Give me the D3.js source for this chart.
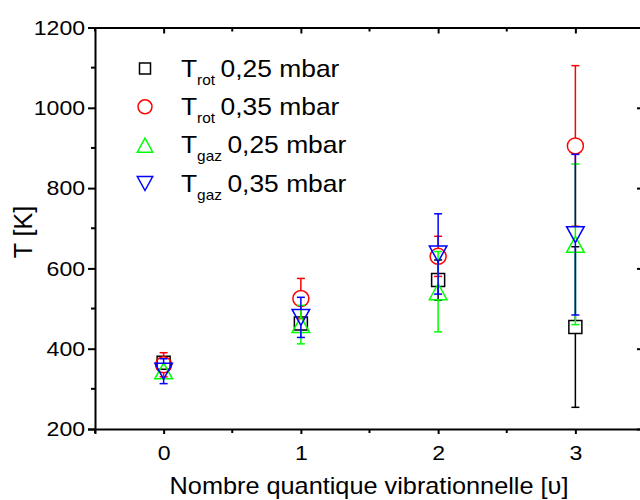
<!DOCTYPE html>
<html lang="fr"><head><meta charset="UTF-8">
<title>T vs nombre quantique vibrationnel</title>
<script src="https://d3js.org/d3.v7.min.js"></script>
<style>
  body { margin: 0; background: #fff; }
  text { font-family: "Liberation Sans", Arial, sans-serif; fill: #000; }
</style>
</head>
<body>
<script>
// data
var levels = [0, 1, 2, 3];
var trot025 = [365, 463, 571, 454];
var trot025Err = [10, 15, 50, 200];
var trot035 = [360, 525, 630, 905];
var trot035Err = [30, 50, 50, 200];
var tgaz025 = [345, 460, 542, 660];
var tgaz025Err = [10, 48, 100, 200];
var tgaz035 = [344, 478, 636, 684];
var tgaz035Err = [31, 50, 100, 200];
var seriesNames = ["rot", "rot", "gaz", "gaz"];
var seriesLabels = ["0,25 mbar", "0,35 mbar", "0,25 mbar", "0,35 mbar"];
var yTicks = [200, 400, 600, 800, 1000, 1200];
var xTicks = [0, 1, 2, 3];

var w = 640, h = 500;
var svg = d3.select("body").append("svg").attr("width", w).attr("height", h);

var x = d3.scaleLinear().domain([-0.5, 3.5]).range([95, 644]);
var y = d3.scaleLinear().domain([200, 1200]).range([429, 27.5]);

var series = [
  { vals: trot025, err: trot025Err, color: "#000000", shape: "square" },
  { vals: trot035, err: trot035Err, color: "#ff0000", shape: "circle" },
  { vals: tgaz025, err: tgaz025Err, color: "#00ff00", shape: "up" },
  { vals: tgaz035, err: tgaz035Err, color: "#0000ff", shape: "down" }
];

function markerPath(shape, s) {
  var r = s / 2;
  if (shape == "square") return "M" + (-r) + "," + (-r) + "h" + s + "v" + s + "h" + (-s) + "Z";
  if (shape == "circle") return "M" + r + ",0A" + r + "," + r + " 0 1,1 " + (-r) + ",0A" + r + "," + r + " 0 1,1 " + r + ",0Z";
  if (shape == "up") return "M0," + (-r) + "L" + (r * 1.1) + "," + r + "L" + (-r * 1.1) + "," + r + "Z";
  return "M0," + r + "L" + (r * 1.1) + "," + (-r) + "L" + (-r * 1.1) + "," + (-r) + "Z";
}
var markerSize = { square: 13, circle: 16, up: 16, down: 16 };

// data
series.forEach(function(s) {
  var g = svg.append("g");
  var half = markerSize[s.shape] / 2;
  levels.forEach(function(lv, i) {
    var cx = x(lv), cy = y(s.vals[i]);
    var top = y(s.vals[i] + s.err[i]), bot = y(s.vals[i] - s.err[i]);
    if (cy - half > top) {
      g.append("line").attr("x1", cx).attr("x2", cx).attr("y1", top).attr("y2", cy - half)
        .attr("stroke", s.color).attr("stroke-width", 1.5);
      g.append("line").attr("x1", cx - 4).attr("x2", cx + 4).attr("y1", top).attr("y2", top)
        .attr("stroke", s.color).attr("stroke-width", 1.5);
    }
    if (cy + half < bot) {
      g.append("line").attr("x1", cx).attr("x2", cx).attr("y1", cy + half).attr("y2", bot)
        .attr("stroke", s.color).attr("stroke-width", 1.5);
      g.append("line").attr("x1", cx - 4).attr("x2", cx + 4).attr("y1", bot).attr("y2", bot)
        .attr("stroke", s.color).attr("stroke-width", 1.5);
    }
    g.append("path").attr("d", markerPath(s.shape, markerSize[s.shape]))
      .attr("transform", "translate(" + cx + "," + cy + ")")
      .attr("fill", "none").attr("stroke", s.color).attr("stroke-width", 1.5);
  });
});

// axes
var minorX = [-0.5, 0, 0.5, 1, 1.5, 2, 2.5, 3, 3.5];
var minorY = d3.range(200, 1201, 100);

var bottom = svg.append("g").attr("transform", "translate(0,429)")
  .call(d3.axisBottom(x).tickValues(xTicks).tickSize(5).tickPadding(11).tickFormat(d3.format("d")));
bottom.append("g").selectAll("line").data(minorX.filter(function(d) { return xTicks.indexOf(d) < 0; }))
  .enter().append("line").attr("x1", x).attr("x2", x).attr("y1", 0).attr("y2", 4).attr("stroke", "#000").attr("stroke-width", 2);

var left = svg.append("g").attr("transform", "translate(95,0)")
  .call(d3.axisLeft(y).tickValues(yTicks).tickSize(7).tickPadding(2).tickFormat(d3.format("d")));
left.append("g").selectAll("line").data(minorY.filter(function(d) { return yTicks.indexOf(d) < 0; }))
  .enter().append("line").attr("y1", y).attr("y2", y).attr("x1", 0).attr("x2", -4).attr("stroke", "#000").attr("stroke-width", 2);

var topAx = svg.append("g").attr("transform", "translate(0,27.5)")
  .call(d3.axisTop(x).tickValues(xTicks).tickSizeInner(-6).tickSizeOuter(0).tickFormat(""));
topAx.append("g").selectAll("line").data(minorX.filter(function(d) { return xTicks.indexOf(d) < 0; }))
  .enter().append("line").attr("x1", x).attr("x2", x).attr("y1", 0).attr("y2", 4).attr("stroke", "#000").attr("stroke-width", 2);

var rightAx = svg.append("g").attr("transform", "translate(644,0)")
  .call(d3.axisRight(y).tickValues(yTicks).tickSizeInner(-7).tickSizeOuter(0).tickFormat(""));

svg.selectAll(".domain").attr("stroke-width", 2);
svg.selectAll(".tick line").attr("stroke-width", 2);
svg.selectAll(".tick text").style("font-size", "21px").attr("transform", "scale(1.1,1)");

// titles
svg.append("text").attr("transform", "translate(369,494) scale(1.1,1)")
  .attr("text-anchor", "middle").style("font-size", "23px")
  .text("Nombre quantique vibrationnelle [\u03c5]");
svg.append("text").attr("transform", "translate(32,232) rotate(-90)")
  .attr("text-anchor", "middle").style("font-size", "25px").text("T [K]");

// legend
var legY = d3.scaleLinear().domain([0, 3]).range([68.5, 183.5]);
series.forEach(function(s, i) {
  var ly = legY(i);
  svg.append("path").attr("d", markerPath(s.shape, s.shape == "square" ? 11 : 14))
    .attr("transform", "translate(145," + ly + ")")
    .attr("fill", "none").attr("stroke", s.color).attr("stroke-width", 1.5);
  var t = svg.append("text").attr("transform", "translate(181," + (ly + 8) + ") scale(1.1,1)")
    .style("font-size", "24px");
  t.append("tspan").text("T");
  t.append("tspan").attr("dy", 8).style("font-size", "14px").text(seriesNames[i]);
  t.append("tspan").attr("dy", -8).attr("dx", 5).text(seriesLabels[i]);
});
</script>
</body></html>
